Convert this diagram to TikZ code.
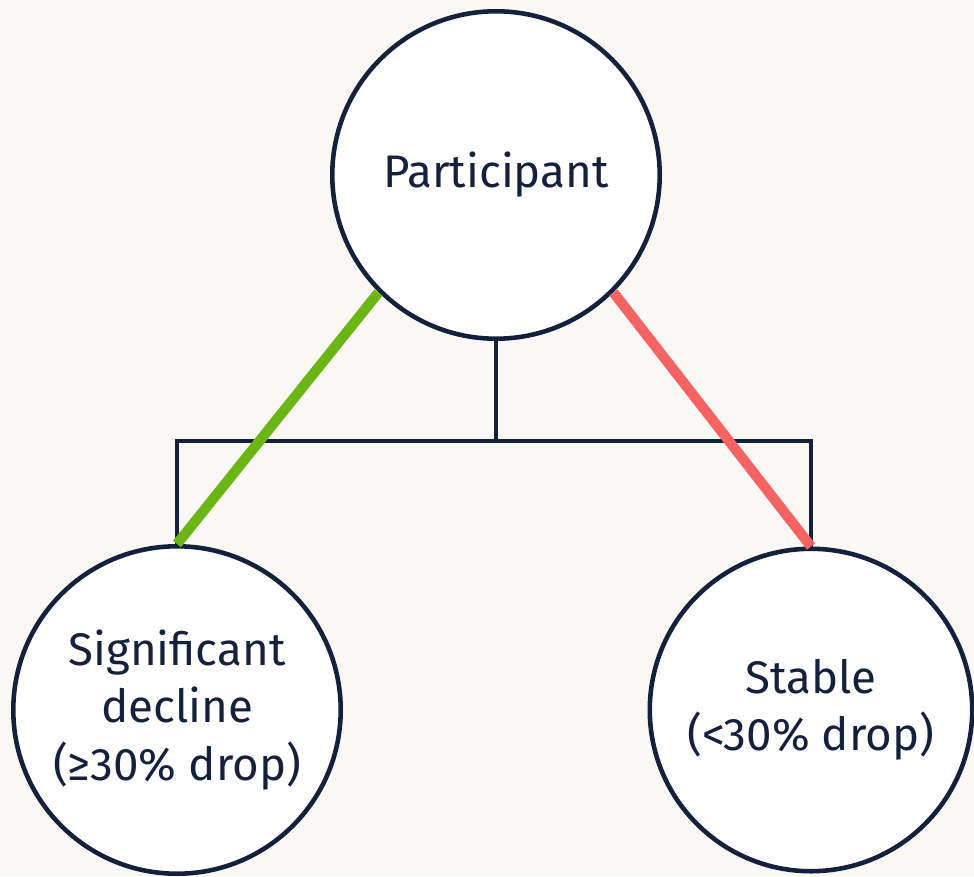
\documentclass[tikz,border=0pt]{standalone}
\usepackage{fontspec}
\setmainfont{Fira Sans}
\usetikzlibrary{positioning,calc}
\definecolor{PanelNavy}{HTML}{14213D}
\definecolor{PanelGreen}{HTML}{6BB515}
\definecolor{PanelRed}{HTML}{F76363}
\definecolor{PanelBack}{HTML}{F9F8F5}

\begin{document}
\begin{tikzpicture}[x=0.02cm,y=-0.02cm,
 group/.style={circle,draw=PanelNavy,fill=white,line width=2.6pt,
 minimum size=6.55cm,inner sep=0pt,align=center,text=PanelNavy,
 font=\fontsize{26}{32.5}\selectfont},
 tree/.style={draw=PanelNavy,line width=2.1pt},
 branch/.style={line width=5.8pt}]
\fill[PanelBack] (0,0) rectangle (974,876);
\useasboundingbox (0,0) rectangle (974,876);
\node[group] (part) at (496,175) {Participant};
\node[group] (decl) at (177,710) {Significant\\decline\\(≥30\% drop)};
\node[group,minimum size=6.45cm] (stab) at (811,710) {Stable\\(<30\% drop)};
\coordinate (bar) at (496,441);
% tree connector
\draw[tree] (part.south) -- (bar);
\draw[tree] (decl.north) |- (bar) -| (stab.north);
% coloured branches
\draw[branch,PanelGreen] (part.south west) -- (decl.north);
\draw[branch,PanelRed] (part.south east) -- (stab.north);
\end{tikzpicture}
\end{document}
